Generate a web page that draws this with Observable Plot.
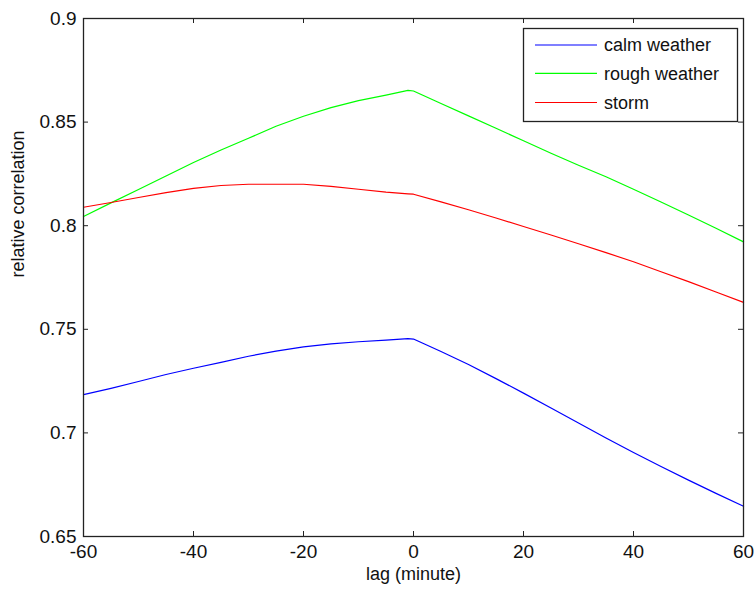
<!DOCTYPE html>
<html>
<head>
<meta charset="utf-8">
<script src="https://cdn.jsdelivr.net/npm/d3@7"></script>
<script src="https://cdn.jsdelivr.net/npm/@observablehq/plot@0.6"></script>
<style>
  html, body { margin: 0; padding: 0; background: #fff; }
  #chart { position: relative; width: 754px; height: 592px; }
</style>
</head>
<body>
<div id="chart"></div>
<script>
const FONT = '"Liberation Sans", Arial, Helvetica, sans-serif';

// lag in minutes
const lags = [-60, -55, -50, -45, -40, -35, -30, -25, -20, -15, -10, -5, -1, 0, 5, 10, 15, 20, 25, 30, 35, 40, 45, 50, 55, 60];

const calmWeather = [0.7185, 0.7215, 0.7248, 0.7282, 0.7312, 0.7340, 0.7370, 0.7395, 0.7415, 0.7430, 0.7440, 0.7448, 0.7455, 0.7453,
  0.7393, 0.7330, 0.7262, 0.7192, 0.7120, 0.7048, 0.6975, 0.6905, 0.6838, 0.6772, 0.6708, 0.6646];
const roughWeather = [0.8044, 0.8110, 0.8175, 0.8240, 0.8305, 0.8365, 0.8422, 0.8480, 0.8528, 0.8570, 0.8604, 0.8630, 0.8653, 0.8650,
  0.8590, 0.8530, 0.8470, 0.8410, 0.8350, 0.8292, 0.8236, 0.8176, 0.8114, 0.8052, 0.7988, 0.7922];
const storm = [0.8089, 0.8112, 0.8136, 0.8160, 0.8180, 0.8194, 0.8200, 0.8200, 0.8200, 0.8190, 0.8176, 0.8162, 0.8154, 0.8152,
  0.8115, 0.8077, 0.8037, 0.7996, 0.7955, 0.7913, 0.7870, 0.7826, 0.7778, 0.7730, 0.7680, 0.7630];

const seriesNames = ["calm weather", "rough weather", "storm"];
const seriesColors = ["#0000ff", "#00ff00", "#ff0000"];
const seriesValues = [calmWeather, roughWeather, storm];

const xTicks = [-60, -40, -20, 0, 20, 40, 60];
const yTicks = [0.65, 0.7, 0.75, 0.8, 0.85, 0.9];

const xLabel = "lag (minute)";
const yLabel = "relative correlation";

const rows = [];
seriesNames.forEach((name, i) => {
  lags.forEach((lag, j) => rows.push({series: name, lag, value: seriesValues[i][j]}));
});

const W = 754, H = 592, mL = 83, mR = 11, mT = 18, mB = 56;
const fw = W - mL - mR, fh = H - mT - mB;
const TICK = 5;
const FS = 19;

const chart = Plot.plot({
  width: W, height: H,
  marginLeft: mL, marginRight: mR, marginTop: mT, marginBottom: mB,
  style: {fontFamily: FONT, fontSize: FS + "px", color: "#111", background: "#fff", overflow: "visible"},
  x: {domain: [-60, 60]},
  y: {domain: [0.65, 0.9]},
  color: {domain: seriesNames, range: seriesColors},
  marks: [
    Plot.line(rows, {x: "lag", y: "value", z: "series", stroke: "series", strokeWidth: 1.2}),
    Plot.frame({stroke: "#222", strokeWidth: 1.3}),
    Plot.tickX(xTicks, {x: d => d, insetTop: fh - TICK, stroke: "#222"}),
    Plot.tickX(xTicks, {x: d => d, insetBottom: fh - TICK, stroke: "#222"}),
    Plot.tickY(yTicks, {y: d => d, insetRight: fw - TICK, stroke: "#222"}),
    Plot.tickY(yTicks, {y: d => d, insetLeft: fw - TICK, stroke: "#222"}),
    Plot.axisX({ticks: xTicks, tickSize: 0, tickPadding: 8, tickFormat: d => String(d), label: null, fontSize: FS}),
    Plot.axisY({ticks: yTicks, tickSize: 0, tickPadding: 7, tickFormat: d => String(d), label: null, fontSize: FS}),
    Plot.text([xLabel], {text: d => d, frameAnchor: "bottom", dy: 43, fontSize: 18}),
    Plot.text([yLabel], {text: d => d, frameAnchor: "left", dx: -65, rotate: -90, fontSize: 18})
  ]
});

document.getElementById("chart").appendChild(chart);

// Legend inside the plot area (top-right), MATLAB style
const svg = d3.select(chart);
const lg = svg.append("g").attr("font-family", FONT).attr("font-size", 18).attr("text-anchor", "start");
const lx = 523, ly = 28, lw = 214, lh = 93;
lg.append("rect").attr("x", lx + 0.5).attr("y", ly + 0.5).attr("width", lw).attr("height", lh)
  .attr("fill", "#fff").attr("stroke", "#222").attr("stroke-width", 1.3);
const rowY = [45, 73.3, 102.5];
seriesNames.forEach((name, i) => {
  lg.append("line").attr("x1", 535).attr("x2", 597).attr("y1", rowY[i]).attr("y2", rowY[i])
    .attr("stroke", seriesColors[i]).attr("stroke-width", 1.2);
  lg.append("text").attr("x", 604).attr("y", rowY[i]).attr("dy", "0.36em")
    .attr("text-anchor", "start").attr("fill", "#111").text(name);
});
</script>
</body>
</html>
